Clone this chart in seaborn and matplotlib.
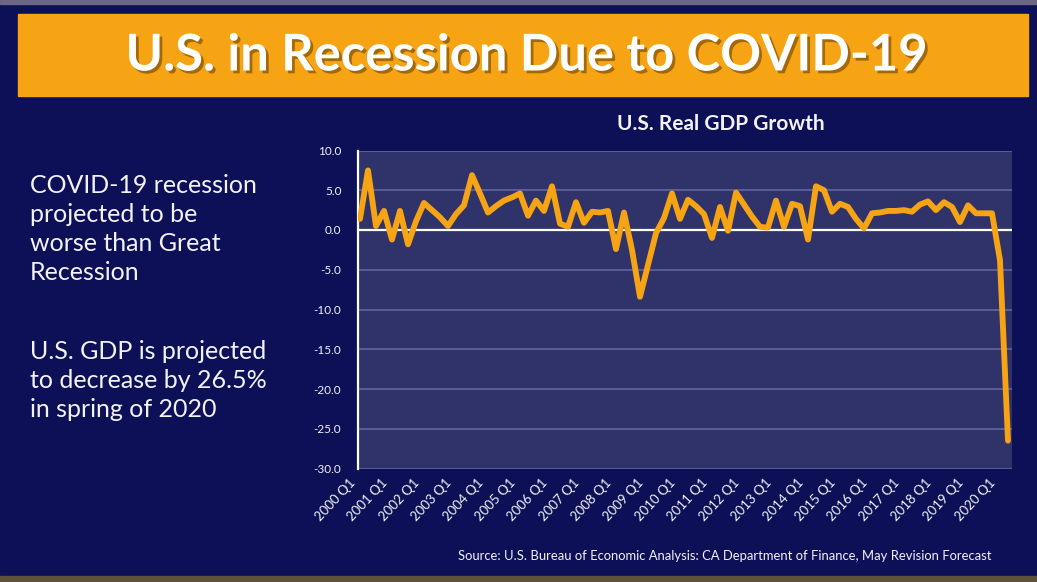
import numpy as np
import matplotlib
matplotlib.use("Agg")
import matplotlib.pyplot as plt
import matplotlib.patheffects as pe
import matplotlib.transforms as mtransforms
from matplotlib.patches import Rectangle
import seaborn as sns

# Quarterly U.S. real GDP growth (annualized %), 2000 Q1 - 2020 Q2
years = list(range(2000, 2021))
quarters = [f"{y} Q{q}" for y in years for q in (1, 2, 3, 4)][:82]
gdp_growth = [
    1.4, 7.5, 0.5, 2.4,      # 2000
    -1.2, 2.4, -1.8, 1.1,    # 2001
    3.4, 2.5, 1.6, 0.5,      # 2002
    2.0, 3.1, 6.9, 4.6,      # 2003
    2.2, 3.0, 3.7, 4.1,      # 2004
    4.6, 1.8, 3.7, 2.4,      # 2005
    5.5, 0.8, 0.4, 3.5,      # 2006
    0.9, 2.3, 2.2, 2.4,      # 2007
    -2.4, 2.2, -2.5, -8.4,   # 2008
    -4.4, -0.4, 1.5, 4.6,    # 2009
    1.4, 3.8, 3.0, 2.0,      # 2010
    -1.0, 2.9, -0.1, 4.7,    # 2011
    3.2, 1.7, 0.4, 0.3,      # 2012
    3.7, 0.4, 3.3, 3.0,      # 2013
    -1.2, 5.5, 5.0, 2.3,     # 2014
    3.3, 2.9, 1.4, 0.2,      # 2015
    2.1, 2.2, 2.4, 2.4,      # 2016
    2.5, 2.3, 3.2, 3.6,      # 2017
    2.5, 3.5, 2.9, 1.0,      # 2018
    3.1, 2.1, 2.1, 2.1,      # 2019
    -3.8, -26.5,             # 2020
]
y_ticks = [10, 5, 0, -5, -10, -15, -20, -25, -30]

title = "U.S. in Recession Due to COVID-19"
chart_title = "U.S. Real GDP Growth"
bullets = [
    "COVID-19 recession\nprojected to be\nworse than Great\nRecession",
    "U.S. GDP is projected\nto decrease by 26.5%\nin spring of 2020",
]
source = ("Source: U.S. Bureau of Economic Analysis: CA Department of Finance, "
          "May Revision Forecast")

NAVY = "#0d1056"
PLOT_BG = "#30336a"
ORANGE = "#f6a414"
GRID = "#5d619e"
WHITE = "#f2f2f7"

sns.set_theme(style="dark")
plt.rcParams["font.family"] = ["Lato", "DejaVu Sans"]

W, H = 1037, 582
fig = plt.figure(figsize=(W / 100, H / 100), dpi=100, facecolor=NAVY)

def fx(px):
    return px / W

def fy(py):
    return 1 - py / H

# slide frame strips and title banner
fig.patches.append(Rectangle((0, fy(4)), 1, fy(0) - fy(4), transform=fig.transFigure,
                             color="#6d6683", zorder=0))
fig.patches.append(Rectangle((0, 0), 1, fy(576), transform=fig.transFigure,
                             color="#5e5238", zorder=0))
fig.patches.append(Rectangle((fx(18), fy(96)), fx(1028) - fx(18), fy(14) - fy(96),
                             transform=fig.transFigure, color=ORANGE, zorder=1))
fig.text(fx(527), fy(56), title, ha="center", va="center", color="white",
         fontsize=36.5, fontweight="bold",
         path_effects=[pe.withSimplePatchShadow(offset=(2, -2),
                                                shadow_rgbFace="#6b4200", alpha=0.6)])

# left-hand commentary
fig.text(fx(30), fy(174), bullets[0], ha="left", va="top", color=WHITE,
         fontsize=18, linespacing=1.32)
fig.text(fx(30), fy(340), bullets[1], ha="left", va="top", color=WHITE,
         fontsize=18, linespacing=1.32)

# GDP chart
ax = fig.add_axes([fx(358), fy(468.5), fx(1012) - fx(358), fy(150.5) - fy(468.5)])
ax.set_facecolor(PLOT_BG)
x = np.arange(len(gdp_growth))
sns.lineplot(x=x, y=gdp_growth, ax=ax, color=ORANGE, linewidth=4.2, zorder=4)

ax.set_ylim(-30, 10)
ax.set_xlim(-0.25, len(gdp_growth) - 0.5)
for v in y_ticks:
    if v == 0:
        ax.axhline(v, color="white", lw=1.6, zorder=3)
    else:
        ax.axhline(v, color=GRID, lw=1.3, zorder=2)

ax.set_yticks(y_ticks)
ax.set_yticklabels([f"{v:.1f}" for v in y_ticks], color=WHITE, fontsize=8.5)

# yearly category labels, rotated and set slightly left of each tick
ax.set_xticks(x[::4])
ax.set_xticklabels([])
label_trans = ax.get_xaxis_transform() + mtransforms.ScaledTranslation(
    -7 / 100, -12 / 100, fig.dpi_scale_trans)
for xi, lbl in zip(x[::4], quarters[::4]):
    ax.text(xi, 0, lbl, transform=label_trans, rotation=47, ha="right", va="center",
            rotation_mode="anchor", color=WHITE, fontsize=9.5, clip_on=False)

ax.tick_params(axis="both", length=0)
ax.tick_params(axis="y", pad=12)
ax.grid(False)
for side in ("top", "right", "bottom"):
    ax.spines[side].set_visible(False)
ax.spines["left"].set_color("white")
ax.spines["left"].set_linewidth(1.6)
ax.set_xlabel("")
ax.set_ylabel("")

fig.text(fx(721), fy(124), chart_title, ha="center", va="center", color=WHITE,
         fontsize=15, fontweight="bold")
fig.text(fx(992), fy(556), source, ha="right", va="center", color=WHITE, fontsize=9.4)

fig.savefig("out.png", dpi=100, facecolor=NAVY)
